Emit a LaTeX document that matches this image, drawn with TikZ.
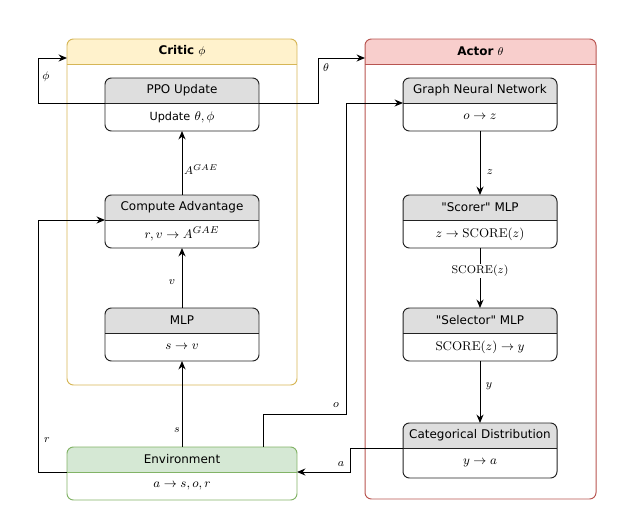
\documentclass[tikz,border=0pt]{standalone}
\usepackage{amsmath}
\usepackage[no-math]{fontspec}
\newfontfamily\dvsans{DejaVu Sans}
\usepackage{tikz}
\usetikzlibrary{arrows.meta}

\definecolor{criticfill}{HTML}{FFF2CC}
\definecolor{criticline}{HTML}{D6B656}
\definecolor{actorfill}{HTML}{F8CECC}
\definecolor{actorline}{HTML}{B85450}
\definecolor{envfill}{HTML}{D5E8D4}
\definecolor{envline}{HTML}{82B366}
\definecolor{headfill}{HTML}{DEDEDE}
\definecolor{blockline}{HTML}{222222}

% box with coloured head: name, left, top, width, height, line, head fill, title
\newcommand{\headbox}[8]{%
  \begin{scope}
    \clip[rounded corners=0.16cm] (#2,#3) rectangle ++(#4,#5);
    \fill[#7] (#2,#3) rectangle ++(#4,25);
  \end{scope}
  \node[frame, draw=#6, minimum width=#4*0.025cm, minimum height=#5*0.025cm,
        anchor=north west] (#1) at (#2,#3) {};
  \coordinate (#1-w) at (#2,#3+25);
  \coordinate (#1-e) at (#2+#4,#3+25);
  \draw[#6] (#1-w) -- (#1-e);
  \node[headtext] (#1-head) at (#2+#4/2,#3+12.5) {#8};
}
% same, with a line of text below the head
\newcommand{\blockbox}[9]{%
  \headbox{#1}{#2}{#3}{#4}{#5}{#6}{#7}{#8}%
  \node[bodytext] (#1-body) at (#2+#4/2,#3+12.5+#5/2) {#9};
}

\begin{document}
\begin{tikzpicture}[x=0.025cm,y=-0.025cm,line width=0.7pt,
    >={Stealth[length=6pt,width=5pt]},
    frame/.style={rounded corners=0.16cm, inner sep=0pt, outer sep=0pt},
    headtext/.style={font=\dvsans\fontsize{8.5}{10}\selectfont, inner sep=0pt},
    bodytext/.style={font=\dvsans\fontsize{9.5}{11}\selectfont, inner sep=0pt},
    lbl/.style={font=\fontsize{8.5}{10}\selectfont, inner sep=1pt}]
	\useasboundingbox (0,0) rectangle (628,523);

	% containers
	\headbox{critic}{67}{39}{230}{346}{criticline}{criticfill}{\bfseries Critic $\phi$}
	\headbox{actor}{365}{39}{231}{460}{actorline}{actorfill}{\bfseries Actor $\theta$}

	% critic side
	\blockbox{ppo}{105}{78}{154}{53}{blockline}{headfill}{PPO Update}{{\fontsize{8}{10}\selectfont Update} $\theta,\phi$}
	\blockbox{adv}{105}{195}{154}{53}{blockline}{headfill}{Compute Advantage}{$r,v\rightarrow A^{GAE}$}
	\blockbox{vmlp}{105}{308}{154}{53}{blockline}{headfill}{MLP}{$s\rightarrow v$}

	% actor side
	\blockbox{gnn}{403}{78}{154}{53}{blockline}{headfill}{Graph Neural Network}{$o\rightarrow z$}
	\blockbox{scorer}{403}{195}{154}{53}{blockline}{headfill}{"Scorer" MLP}{$z\rightarrow\mathrm{SCORE}(z)$}
	\blockbox{selector}{403}{308}{154}{53}{blockline}{headfill}{"Selector" MLP}{$\mathrm{SCORE}(z)\rightarrow y$}
	\blockbox{catdist}{403}{423}{154}{55}{blockline}{headfill}{Categorical Distribution}{$y\rightarrow a$}

	\blockbox{env}{67}{447}{230}{53}{envline}{envfill}{Environment}{$a\rightarrow s,o,r$}

	% arrows
	\draw[->] (ppo-w) -- ++(-67,0) |- ([shift={(0,19)}]critic.north west);
	\draw[->] (ppo-e) -- ++(59,0) |- ([shift={(0,19)}]actor.north west);
	\draw[->] (adv.north) -- (ppo.south);
	\draw[->] (vmlp.north) -- (adv.south);
	\draw[->] (env.north -| vmlp.south) -- (vmlp.south);
	\draw[->] (env-w) -- ++(-29,0) |- (adv-w);
	\draw[->] ([shift={(-34,0)}]env.north east) -- ++(0,-33) -- ++(83,0) |- (gnn-w);
	\draw[->] (gnn.south) -- (scorer.north);
	\draw[->] (scorer.south) -- (selector.north);
	\draw[->] (selector.south) -- (catdist.north);
	\draw[->] (catdist-w) -- ++(-53,0) |- (env-e);

	% labels
	\node[lbl] (phi-l) at (46,77) {$\phi$};
	\node[lbl] (theta-l) at (326,68) {$\theta$};
	\node[lbl] (gae-l) at (201,170) {$A^{GAE}$};
	\node[lbl] (v-l) at (172,282) {$v$};
	\node[lbl] (s-l) at (177,430) {$s$};
	\node[lbl] (r-l) at (47,440) {$r$};
	\node[lbl] (o-l) at (336,405) {$o$};
	\node[lbl] (z-l) at (490,172) {$z$};
	\node[lbl, fill=white] (score-l) at (480,271) {$\mathrm{SCORE}(z)$};
	\node[lbl] (y-l) at (489,386) {$y$};
	\node[lbl] (a-l) at (341,464) {$a$};
\end{tikzpicture}
\end{document}
